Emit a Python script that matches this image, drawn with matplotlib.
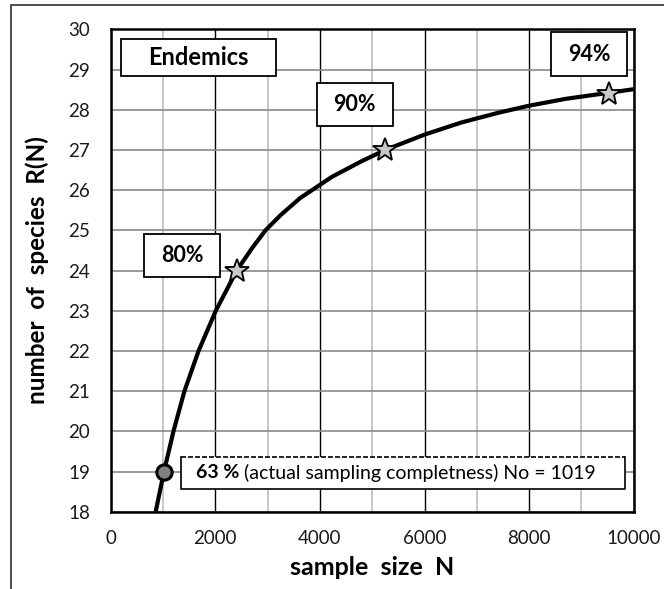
import matplotlib
matplotlib.use("Agg")
import matplotlib.pyplot as plt
from matplotlib.patches import Rectangle
from matplotlib.lines import Line2D
from matplotlib.ticker import MultipleLocator

# ---- data ----
curve_n = [860, 1019, 1200, 1410, 1680, 2010, 2410, 2700, 2960, 3250, 3620,
           4230, 4800, 5250, 6000, 6700, 7400, 8000, 8700, 9520, 10000]
curve_r = [18.0, 19.0, 20.0, 21.0, 22.0, 23.0, 24.0, 24.55, 25.0, 25.38, 25.8,
           26.33, 26.72, 27.0, 27.38, 27.68, 27.92, 28.1, 28.27, 28.42, 28.51]
actual_n = [1019]
actual_r = [19]
star_n = [2410, 5250, 9520]
star_r = [24.0, 27.0, 28.4]
star_labels = ["80%", "90%", "94%"]
title_text = "Endemics"
note_bold = "63 %"
note_rest = " (actual sampling completness) No = 1019"
x_ticks = [0, 2000, 4000, 6000, 8000, 10000]
y_ticks = list(range(18, 31))

W, H = 664, 589
fig = plt.figure(figsize=(W / 100, H / 100), dpi=100)
plt.rcParams['font.family'] = ['Lato', 'DejaVu Sans']

L, T, R, B = 110.7, 29.3, 633.7, 511.7
ax = fig.add_axes([L / W, 1 - B / H, (R - L) / W, (B - T) / H])

# outer frame
fig.patches.append(Rectangle((11 / W, -0.1), 1.2, 1 - 5 / H + 0.1,
                             transform=fig.transFigure, fill=False,
                             edgecolor='#404040', linewidth=1.3))

ax.set_xlim(0, 10000)
ax.set_ylim(18, 30)
ax.xaxis.set_minor_locator(MultipleLocator(1000))
ax.set_xticks(x_ticks)
ax.set_yticks(y_ticks)
ax.grid(False)
ax.grid(True, which='minor', axis='x', color='#bdbdbd', linewidth=1.2, zorder=0)
ax.grid(True, which='major', axis='x', color='black', linewidth=1.0, zorder=0)
ax.grid(True, which='major', axis='y', color='#8a8a8a', linewidth=1.2, zorder=0)
ax.set_axisbelow(True)
for s in ax.spines.values():
    s.set_linewidth(1.8)
    s.set_color('black')
ax.tick_params(which='both', length=0, labelsize=13.5, colors='#1a1a1a')
ax.tick_params(axis='x', pad=13)
ax.tick_params(axis='y', pad=15)

ax.set_xlabel("sample  size  N", fontsize=18, fontweight='bold', labelpad=7)
ax.set_ylabel("number  of  species  R(N)", fontsize=17.5, fontweight='bold', labelpad=14)

ax.plot(curve_n, curve_r, color='black', linewidth=3.0, solid_capstyle='butt',
        solid_joinstyle='round', zorder=3)
ax.plot(actual_n, actual_r, 'o', markersize=11, markerfacecolor='#7f7f7f',
        markeredgecolor='black', markeredgewidth=2.2, zorder=4)
ax.plot(star_n, star_r, '*', markersize=18, markerfacecolor='#c8c8c8',
        markeredgecolor='black', markeredgewidth=1.3, zorder=4)


def frac(x0, y0, x1, y1):
    fx0 = (x0 - L) / (R - L)
    fx1 = (x1 - L) / (R - L)
    fy0 = (B - y1) / (B - T)
    fy1 = (B - y0) / (B - T)
    return fx0, fy0, fx1, fy1


def box(x0, y0, x1, y1):
    fx0, fy0, fx1, fy1 = frac(x0, y0, x1, y1)
    ax.add_patch(Rectangle((fx0, fy0), fx1 - fx0, fy1 - fy0, transform=ax.transAxes,
                           facecolor='white', edgecolor='black', linewidth=1.3,
                           zorder=5, clip_on=False))
    return (fx0 + fx1) / 2, (fy0 + fy1) / 2


cx, cy = box(121, 38.7, 275.7, 76)
ax.text(cx, cy, title_text, transform=ax.transAxes, ha='center', va='center',
        fontsize=17, fontweight='bold', zorder=6)

label_boxes = [(144.3, 234, 220, 277.3), (316.7, 82.7, 392.7, 126), (551, 32.3, 627.3, 76)]
for lab, bx in zip(star_labels, label_boxes):
    cx, cy = box(*bx)
    ax.text(cx, cy, lab, transform=ax.transAxes, ha='center', va='center',
            fontsize=15.5, fontweight='bold', zorder=6)

# note box: dashed top edge, solid others
fx0, fy0, fx1, fy1 = frac(180.7, 456.7, 625.3, 489.3)
ax.add_patch(Rectangle((fx0, fy0), fx1 - fx0, fy1 - fy0, transform=ax.transAxes,
                       facecolor='white', edgecolor='none', zorder=5))
ax.add_line(Line2D([fx0, fx1], [fy1, fy1], transform=ax.transAxes, color='black',
                   linewidth=1.2, linestyle=(0, (3, 1.2)), zorder=6))
ax.add_line(Line2D([fx0, fx0, fx1, fx1], [fy1, fy0, fy0, fy1], transform=ax.transAxes,
                   color='black', linewidth=1.2, zorder=6))
cy = (fy0 + fy1) / 2
t1 = ax.text(fx0 + 0.029, cy, note_bold, transform=ax.transAxes, ha='left',
             va='center', fontsize=14, fontweight='bold', zorder=6)
ax.annotate(note_rest, xy=(1, 0), xycoords=t1, ha='left', va='bottom',
            fontsize=14, zorder=6)

fig.savefig("out.png", dpi=100)
